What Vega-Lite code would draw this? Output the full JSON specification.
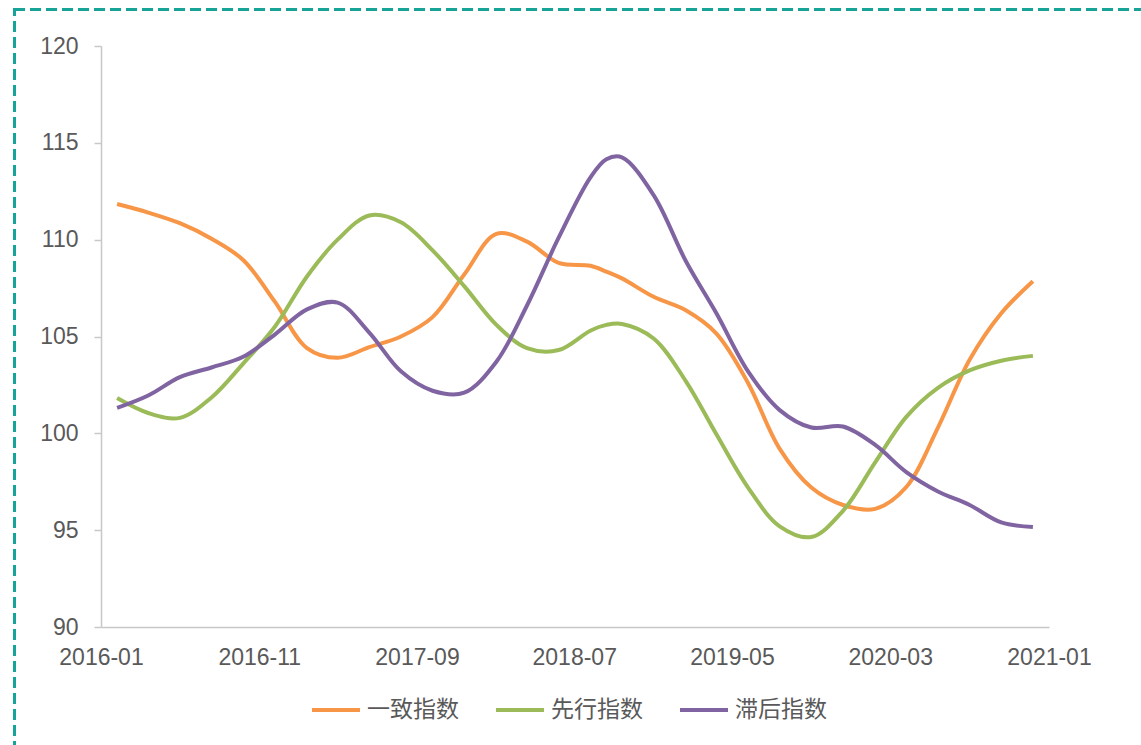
{
  "$schema": "https://vega.github.io/schema/vega-lite/v6.json",
  "width": 948,
  "height": 581,
  "autosize": {"type": "none"},
  "padding": {"left": 101, "top": 46, "right": 92, "bottom": 118},
  "background": "white",
  "config": {
    "view": {"stroke": null},
    "font": "Liberation Sans, Noto Sans CJK SC"
  },
  "data": {
    "values": [
      {"date": "2016/02/01", "一致指数": 111.84, "先行指数": 101.82, "滞后指数": 101.31},
      {"date": "2016/04/01", "一致指数": 111.4, "先行指数": 101.05, "滞后指数": 101.95},
      {"date": "2016/06/01", "一致指数": 110.85, "先行指数": 100.8, "滞后指数": 102.9},
      {"date": "2016/08/01", "一致指数": 110.05, "先行指数": 101.85, "滞后指数": 103.4},
      {"date": "2016/10/01", "一致指数": 108.95, "先行指数": 103.6, "滞后指数": 103.95},
      {"date": "2016/12/01", "一致指数": 106.8, "先行指数": 105.5, "滞后指数": 105.1},
      {"date": "2017/02/01", "一致指数": 104.4, "先行指数": 108.1, "滞后指数": 106.4},
      {"date": "2017/04/01", "一致指数": 103.9, "先行指数": 110.0, "滞后指数": 106.75},
      {"date": "2017/06/01", "一致指数": 104.45, "先行指数": 111.25, "滞后指数": 105.2},
      {"date": "2017/08/01", "一致指数": 105.0, "先行指数": 110.9, "滞后指数": 103.2},
      {"date": "2017/10/01", "一致指数": 106.0, "先行指数": 109.45, "滞后指数": 102.2},
      {"date": "2017/12/01", "一致指数": 108.2, "先行指数": 107.6, "滞后指数": 102.1},
      {"date": "2018/02/01", "一致指数": 110.3, "先行指数": 105.6, "滞后指数": 103.7},
      {"date": "2018/04/01", "一致指数": 109.9, "先行指数": 104.4, "滞后指数": 106.6},
      {"date": "2018/06/01", "一致指数": 108.8, "先行指数": 104.3, "滞后指数": 110.1},
      {"date": "2018/08/01", "一致指数": 108.65, "先行指数": 105.3, "滞后指数": 113.2},
      {"date": "2018/09/01", "一致指数": 108.35, "先行指数": 105.6, "滞后指数": 114.15},
      {"date": "2018/10/01", "一致指数": 108.0, "先行指数": 105.65, "滞后指数": 114.25},
      {"date": "2018/12/01", "一致指数": 107.05, "先行指数": 104.9, "滞后指数": 112.3},
      {"date": "2019/02/01", "一致指数": 106.35, "先行指数": 102.7, "滞后指数": 108.9},
      {"date": "2019/04/01", "一致指数": 105.15, "先行指数": 99.95, "滞后指数": 106.2},
      {"date": "2019/06/01", "一致指数": 102.6, "先行指数": 97.2, "滞后指数": 103.2},
      {"date": "2019/08/01", "一致指数": 99.2, "先行指数": 95.2, "滞后指数": 101.2},
      {"date": "2019/10/01", "一致指数": 97.2, "先行指数": 94.65, "滞后指数": 100.3},
      {"date": "2019/12/01", "一致指数": 96.3, "先行指数": 96.0, "滞后指数": 100.35},
      {"date": "2020/02/01", "一致指数": 96.1, "先行指数": 98.5, "滞后指数": 99.4},
      {"date": "2020/04/01", "一致指数": 97.23, "先行指数": 100.85, "滞后指数": 98.0},
      {"date": "2020/06/01", "一致指数": 100.3, "先行指数": 102.35, "滞后指数": 97.0},
      {"date": "2020/08/01", "一致指数": 103.8, "先行指数": 103.25, "滞后指数": 96.3},
      {"date": "2020/10/01", "一致指数": 106.2, "先行指数": 103.75, "滞后指数": 95.4},
      {"date": "2020/12/01", "一致指数": 107.85, "先行指数": 104.0, "滞后指数": 95.16}
    ]
  },
  "layer": [
    {
      "mark": {"type": "rect", "fill": null, "stroke": "#17a398", "strokeWidth": 2.2, "strokeDash": [10, 6], "clip": false},
      "encoding": {
        "x": {"datum": {"year": 2015, "month": 7, "date": 18}, "type": "temporal"},
        "x2": {"datum": {"year": 2022, "month": 6, "date": 1}},
        "y": {"datum": 121.88, "type": "quantitative"},
        "y2": {"datum": 70}
      }
    },
    {
      "transform": [{"fold": ["一致指数", "先行指数", "滞后指数"], "as": ["series", "value"]}],
      "mark": {"type": "line", "interpolate": "catmull-rom", "strokeWidth": 4, "clip": false},
      "encoding": {
        "x": {
          "field": "date",
          "type": "temporal",
          "scale": {"domain": [{"year": 2016, "month": 1, "date": 1}, {"year": 2021, "month": 1, "date": 1}], "nice": false},
          "axis": {
            "title": null,
            "format": "%Y-%m",
            "values": [
              {"year": 2016, "month": 1, "date": 1},
              {"year": 2016, "month": 11, "date": 1},
              {"year": 2017, "month": 9, "date": 1},
              {"year": 2018, "month": 7, "date": 1},
              {"year": 2019, "month": 5, "date": 1},
              {"year": 2020, "month": 3, "date": 1},
              {"year": 2021, "month": 1, "date": 1}
            ],
            "grid": false,
            "ticks": false,
            "domainColor": "#c8c8c8",
            "domainWidth": 1.5,
            "labelFontSize": 23,
            "labelColor": "#595959",
            "labelPadding": 19,
            "labelFlush": false,
            "labelOverlap": false,
            "labelBound": false
          }
        },
        "y": {
          "field": "value",
          "type": "quantitative",
          "scale": {"domain": [90, 120], "nice": false, "zero": false},
          "axis": {
            "title": null,
            "values": [90, 95, 100, 105, 110, 115, 120],
            "grid": false,
            "domainColor": "#c8c8c8",
            "domainWidth": 1.5,
            "tickColor": "#c8c8c8",
            "tickSize": 7,
            "tickWidth": 1.5,
            "labelFontSize": 23,
            "labelColor": "#595959",
            "labelPadding": 16
          }
        },
        "color": {
          "field": "series",
          "type": "nominal",
          "scale": {"domain": ["一致指数", "先行指数", "滞后指数"], "range": ["#f79646", "#9bbb59", "#8064a2"]},
          "legend": {
            "title": null,
            "orient": "none",
            "direction": "horizontal",
            "legendX": 209,
            "legendY": 638,
            "padding": 0,
            "symbolType": "stroke",
            "symbolSize": 2304,
            "symbolStrokeWidth": 4,
            "labelFontSize": 23,
            "labelColor": "#595959",
            "labelOffset": 5,
            "columnPadding": 29
          }
        }
      }
    }
  ]
}
